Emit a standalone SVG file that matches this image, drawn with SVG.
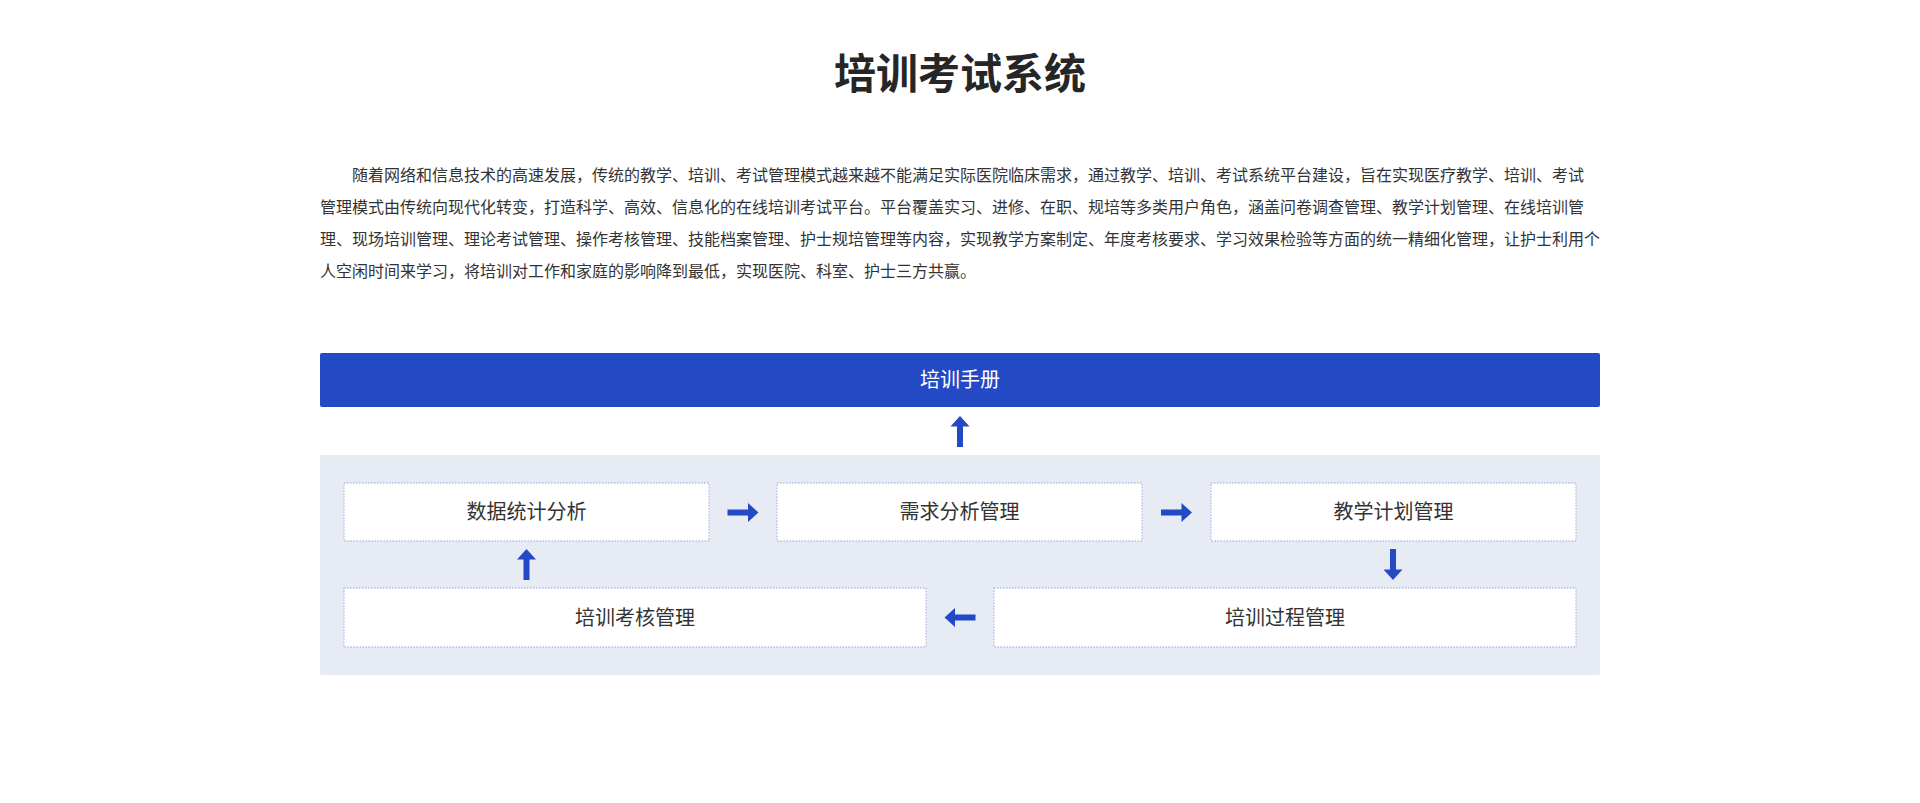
<svg xmlns="http://www.w3.org/2000/svg" xmlns:xlink="http://www.w3.org/1999/xlink" width="1920" height="803" viewBox="0 0 1920 803">
<style>
  .title{font-family:"Noto Sans CJK SC","Noto Sans",sans-serif;font-size:42px;font-weight:700;fill:#262626;}
  .para{font-family:"Noto Sans CJK SC","Noto Sans",sans-serif;font-size:16px;fill:#333333;}
  .box{fill:#ffffff;stroke:#B1BDEB;stroke-width:1.3;stroke-dasharray:1.5 1.5;}
  .label{font-family:"Noto Sans CJK SC","Noto Sans",sans-serif;font-size:20px;fill:#333333;text-anchor:middle;}
  .barlabel{font-family:"Noto Sans CJK SC","Noto Sans",sans-serif;font-size:20px;fill:#ffffff;text-anchor:middle;}
  .arrow{fill:#2349C5;}
</style>
<defs>
  <path id="arrow" d="M-15.5,-3 H5 V-9.5 L15.5,0 L5,9.5 V3 H-15.5 Z"/>
</defs>
<rect x="0" y="0" width="1920" height="803" fill="#ffffff"/>
<text class="title" x="960" y="89" text-anchor="middle">培训考试系统</text>
<g id="intro">
  <text class="para" x="352" y="181" textLength="1232" lengthAdjust="spacing">随着网络和信息技术的高速发展，传统的教学、培训、考试管理模式越来越不能满足实际医院临床需求，通过教学、培训、考试系统平台建设，旨在实现医疗教学、培训、考试</text>
  <text class="para" x="320" y="213" textLength="1264" lengthAdjust="spacing">管理模式由传统向现代化转变，打造科学、高效、信息化的在线培训考试平台。平台覆盖实习、进修、在职、规培等多类用户角色，涵盖问卷调查管理、教学计划管理、在线培训管</text>
  <text class="para" x="320" y="245" textLength="1280" lengthAdjust="spacing">理、现场培训管理、理论考试管理、操作考核管理、技能档案管理、护士规培管理等内容，实现教学方案制定、年度考核要求、学习效果检验等方面的统一精细化管理，让护士利用个</text>
  <text class="para" x="320" y="277" textLength="656" lengthAdjust="spacing">人空闲时间来学习，将培训对工作和家庭的影响降到最低，实现医院、科室、护士三方共赢。</text>
</g>
<g id="node-manual">
  <rect x="320" y="353" width="1280" height="54" rx="2" fill="#2349C5"/>
  <text class="barlabel" x="960" y="387">培训手册</text>
</g>
<g id="panel">
  <rect x="320" y="455" width="1280" height="220" rx="2" fill="#E7EBF4"/>
</g>
<g id="node-stats">
  <rect class="box" x="344" y="483" width="365" height="58"/>
  <text class="label" x="526.5" y="519">数据统计分析</text>
</g>
<g id="node-demand">
  <rect class="box" x="777" y="483" width="365" height="58"/>
  <text class="label" x="959.5" y="519">需求分析管理</text>
</g>
<g id="node-plan">
  <rect class="box" x="1211" y="483" width="365" height="58"/>
  <text class="label" x="1393.5" y="519">教学计划管理</text>
</g>
<g id="node-exam">
  <rect class="box" x="344" y="588" width="582" height="59"/>
  <text class="label" x="635" y="624.5">培训考核管理</text>
</g>
<g id="node-process">
  <rect class="box" x="994" y="588" width="582" height="59"/>
  <text class="label" x="1285" y="624.5">培训过程管理</text>
</g>
<g id="connectors" class="arrow">
  <use xlink:href="#arrow" transform="translate(960,431.5) rotate(-90)"/>
  <use xlink:href="#arrow" transform="translate(743,512.5)"/>
  <use xlink:href="#arrow" transform="translate(1176.5,512.5)"/>
  <use xlink:href="#arrow" transform="translate(1393,564.5) rotate(90)"/>
  <use xlink:href="#arrow" transform="translate(960,617.5) rotate(180)"/>
  <use xlink:href="#arrow" transform="translate(526.5,564.5) rotate(-90)"/>
</g>
</svg>
